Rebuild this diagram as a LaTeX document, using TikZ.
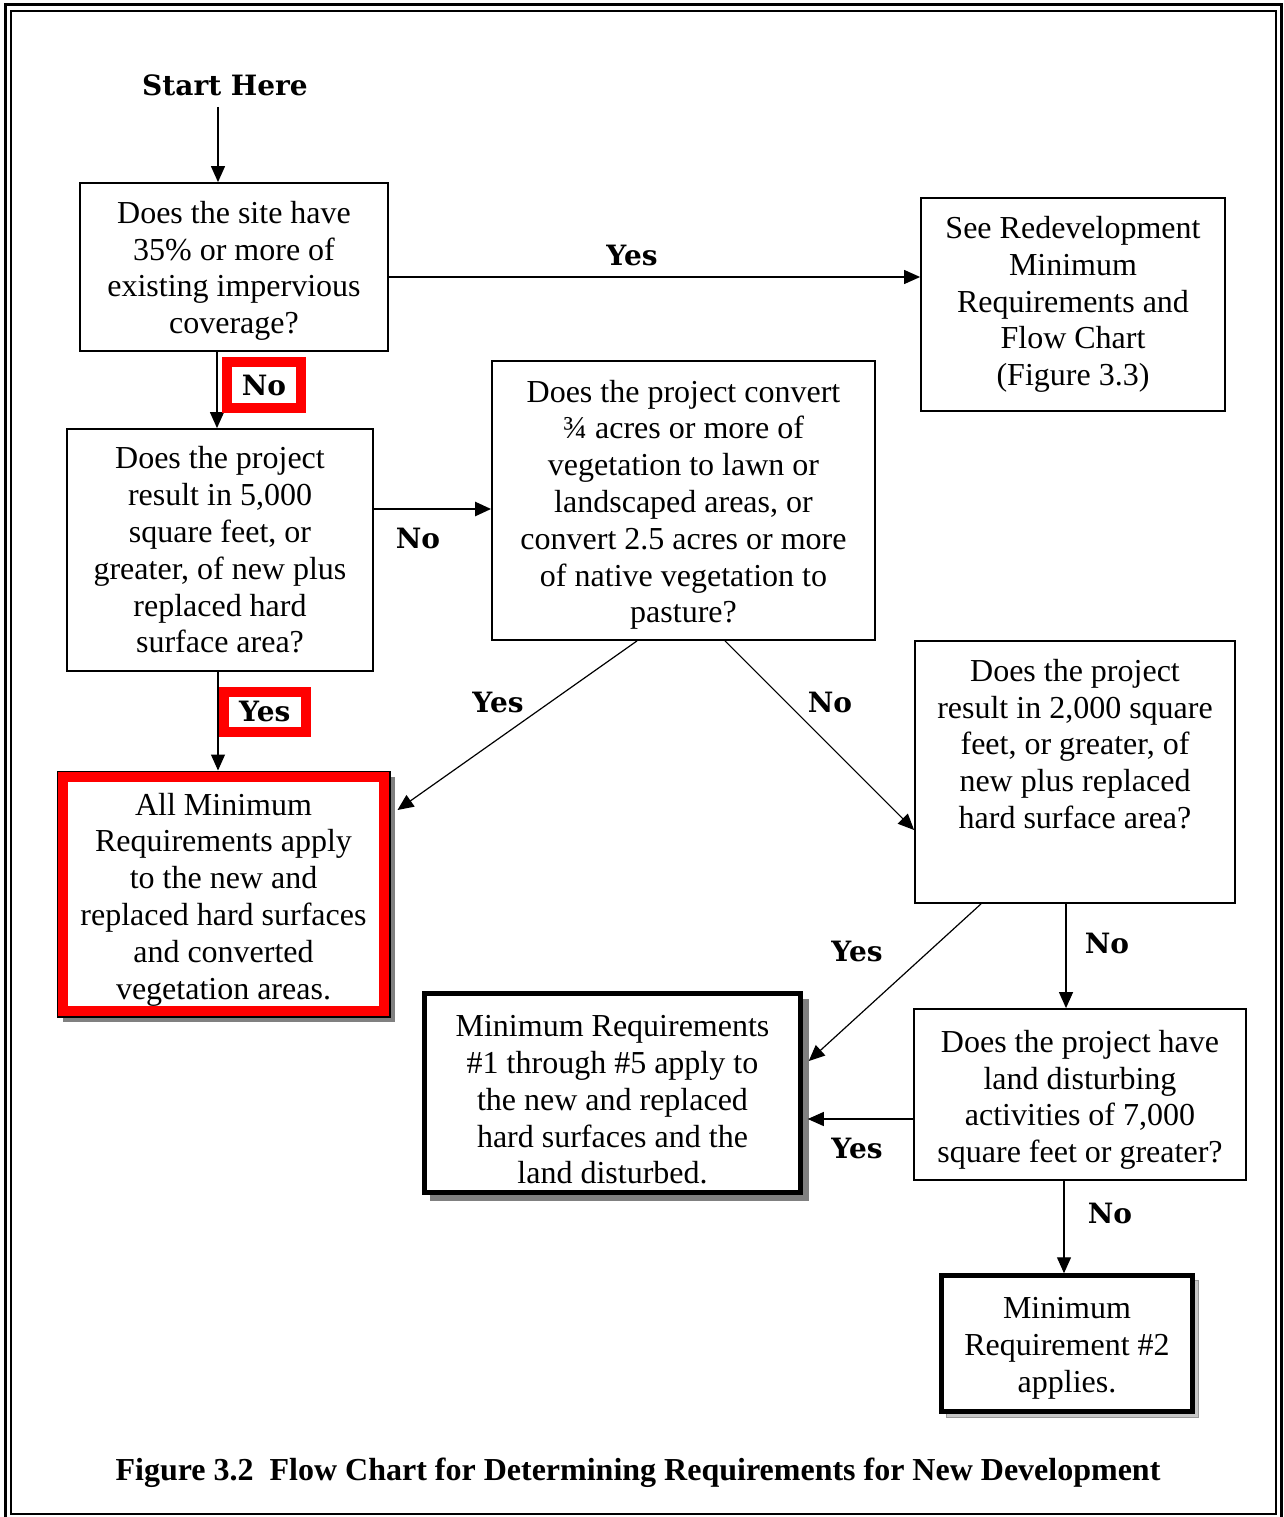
\documentclass[tikz,border=0pt]{standalone}
\usepackage{fontspec}
\setmainfont{Liberation Serif}
\newfontfamily\labfont{DejaVu Serif}
\usetikzlibrary{arrows.meta}
\newcommand\myBody{\fontsize{32}{36.8}\selectfont}
\newcommand\topgap[1]{\rule{0pt}{#1pt}}
\begin{document}
\begin{tikzpicture}[x=1pt,y=-1pt,
  qbox/.style={draw, line width=1.8pt, fill=white, inner sep=0pt, align=center, font=\myBody},
  heavybox/.style={qbox, line width=4.5pt},
  txt/.style={inner sep=0pt, align=center, font=\myBody},
  arr/.style={-{Triangle[length=16pt,width=14pt]}, line width=1.2pt},
  lab/.style={font=\labfont\bfseries\fontsize{28}{30}\selectfont, inner sep=0pt},
  redlab/.style={lab, draw=red, line width=10pt, fill=white}]
\useasboundingbox (0,0) rectangle (1284,1517);
% page border
\draw[line width=3pt] (5,5) rectangle (1281,1520);
\draw[line width=1.8pt] (11,11) rectangle (1276,1514);

% shadows
\fill[black!50] (63,777) rectangle (395,1022);
\fill[black!50] (430,999) rectangle (809,1201);
\filldraw[fill=black!22, draw=black!40, line width=0.8pt] (946,1280) rectangle (1198,1417);

% nodes
\node[lab] (start) at (225,85) {Start Here};
\node[qbox, minimum width=308pt, minimum height=168pt] (b1) at (234,267)
  {\topgap{30}Does the site have\\35\% or more of\\existing impervious\\coverage?};
\node[qbox, minimum width=304pt, minimum height=213pt] (b2) at (1073,304.5)
  {See Redevelopment\\Minimum\\Requirements and\\Flow Chart\\(Figure 3.3)};
\node[qbox, minimum width=306pt, minimum height=242pt] (b3) at (220,550)
  {Does the project\\result in 5,000\\square feet, or\\greater, of new plus\\replaced hard\\surface area?};
\node[qbox, minimum width=383pt, minimum height=279pt] (b4) at (683.5,500.5)
  {\topgap{31}Does the project convert\\¾ acres or more of\\vegetation to lawn or\\landscaped areas, or\\convert 2.5 acres or more\\of native vegetation to\\pasture?};
\node[qbox, line width=3pt, minimum width=331pt, minimum height=244pt] (b5) at (223.5,894)
  {\topgap{33}All Minimum\\Requirements apply\\to the new and\\replaced hard surfaces\\and converted\\vegetation areas.};
\draw[red, line width=10pt] ([xshift=6.5pt,yshift=-6.5pt]b5.north west) rectangle ([xshift=-6.5pt,yshift=6.5pt]b5.south east);
\node[qbox, minimum width=320pt, minimum height=262pt] (b6) at (1075,772) {};
\node[txt] (b6t) at (1075,744)
  {Does the project\\result in 2,000 square\\feet, or greater, of\\new plus replaced\\hard surface area?};
\node[heavybox, minimum width=376pt, minimum height=199pt] (b7) at (612.5,1093)
  {\topgap{35}Minimum Requirements\\\#1 through \#5 apply to\\the new and replaced\\hard surfaces and the\\land disturbed.};
\node[qbox, minimum width=332pt, minimum height=171pt] (b8) at (1080,1094.5)
  {\topgap{33}Does the project have\\land disturbing\\activities of 7,000\\square feet or greater?};
\node[heavybox, minimum width=251pt, minimum height=136pt] (b9) at (1067,1343.5)
  {\topgap{31}Minimum\\Requirement \#2\\applies.};

% connectors
\coordinate (s0) at (218,107);
\draw[arr] (s0) -- (s0 |- b1.north);
\draw[arr] ([xshift=-17pt]b1.south) -- ([xshift=-17pt]b1.south |- b3.north);
\draw[arr] ([yshift=-10pt]b1.east) -- ([yshift=-10pt]b1.east -| b2.west);
\draw[arr, line width=2.5pt] ([yshift=41pt]b3.east) -- ([yshift=41pt]b3.east -| b4.west);
\draw[arr] ([xshift=-2pt]b3.south) -- ([xshift=-2pt]b3.south |- b5.north);
\draw[arr] ([xshift=-46.5pt]b4.south) -- ([xshift=7pt,yshift=84pt]b5.east);
\draw[arr] ([xshift=41.5pt]b4.south) -- ([yshift=-58pt]b6.west);
\draw[arr] ([xshift=-94pt]b6.south) -- ([xshift=6pt,yshift=32pt]b7.east);
\draw[arr] ([xshift=-9pt]b6.south) -- ([xshift=-9pt]b6.south |- b8.north);
\draw[arr] ([yshift=-24.5pt]b8.west) -- ([yshift=-24.5pt,xshift=5pt]b8.west -| b7.east);
\draw[arr] ([xshift=-16pt]b8.south) -- ([xshift=-16pt]b8.south |- b9.north);

% labels
\node[lab] (l1) at (632,255) {Yes};
\node[redlab, minimum width=74pt, minimum height=46pt] (l2) at (264,385) {No};
\node[lab] (l3) at (418,538) {No};
\node[redlab, minimum width=82.5pt, minimum height=40.5pt] (l4) at (264.75,711.75) {Yes};
\node[lab] (l5) at (498,702) {Yes};
\node[lab] (l6) at (830,702) {No};
\node[lab] (l7) at (857,951) {Yes};
\node[lab] (l8) at (1107,943) {No};
\node[lab] (l9) at (857,1148) {Yes};
\node[lab] (l10) at (1110,1213) {No};

\node[inner sep=0pt, font=\bfseries\fontsize{32}{36}\selectfont] (cap) at (638,1473)
  {Figure 3.2\ \ Flow Chart for Determining Requirements for New Development};
\end{tikzpicture}
\end{document}
